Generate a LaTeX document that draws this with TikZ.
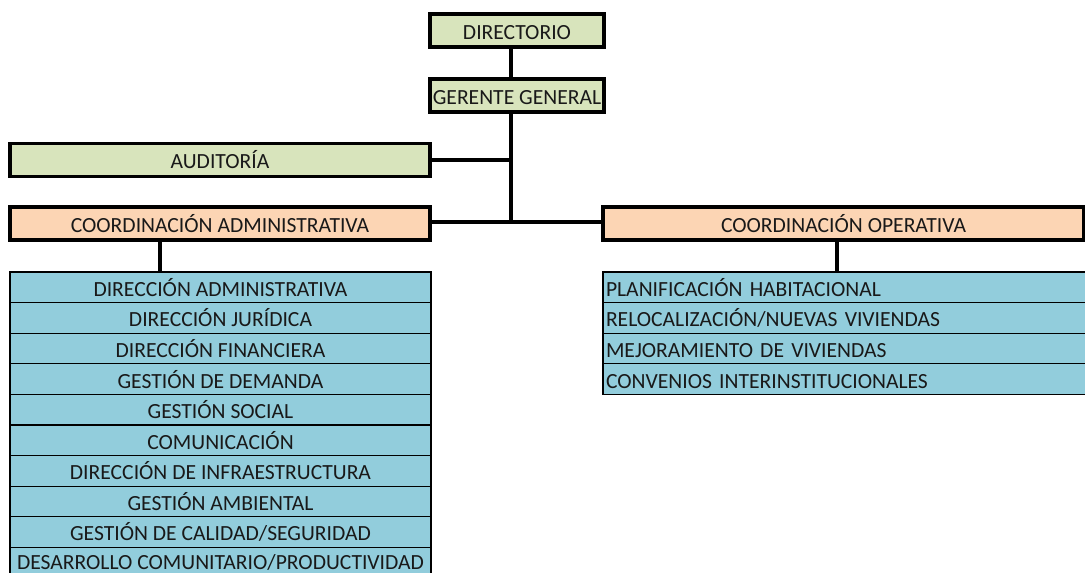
\documentclass[tikz,border=0pt]{standalone}
\usepackage{fontspec}
\setmainfont{Carlito}
\definecolor{gbox}{HTML}{D8E4BC}
\definecolor{obox}{HTML}{FCD5B4}
\definecolor{bbox}{HTML}{92CDDC}
\newcommand{\tstrut}{\vphantom{ÁÉ}}
\newcommand{\lowstrut}{\vphantom{ÁÉy}\rule[-2.5pt]{0pt}{1pt}}
\begin{document}
\begin{tikzpicture}[x=0.75pt,y=-0.75pt,
  every node/.style={inner sep=0pt,outer sep=0pt,font=\fontsize{16.2pt}{18pt}\selectfont,text=black!90},
  topbox/.style={draw=black,line width=2.4pt,fill=gbox,minimum width=174*0.75pt,minimum height=33*0.75pt},
  widebox/.style={draw=black,line width=2.4pt,minimum width=420*0.75pt,minimum height=33*0.75pt},
  lrow/.style={draw=black,line width=1pt,fill=bbox,minimum width=421*0.75pt,minimum height=30.6*0.75pt},
  rrow/.style={draw=black,line width=1pt,fill=bbox,minimum width=483*0.75pt,minimum height=30.6*0.75pt,text width=477*0.75pt,align=left},
  conn/.style={line width=2.4pt,black}]
\useasboundingbox (0,0) rectangle (1085,573);
\clip (0,0) rectangle (1085,573);
\coordinate (jA) at (511,160);
\coordinate (jB) at (511,222);
\node[topbox] (dir) at (517,30.5) {\tstrut DIRECTORIO};
\node[topbox] (ger) at (517,95.5) {\tstrut GERENTE GENERAL};
\node[widebox,fill=gbox] (aud) at (220,160) {\tstrut AUDITORÍA};
\node[widebox,fill=obox] (cad) at (220,223.5) {\tstrut COORDINACIÓN ADMINISTRATIVA};
\node[widebox,fill=obox,minimum width=481*0.75pt] (cop) at (843.5,223.5) {\tstrut COORDINACIÓN OPERATIVA};
\draw[conn] (dir.south -| jA) -- (ger.north -| jA);
\draw[conn] (ger.south -| jA) -- (jB);
\draw[conn] (jA) -- (aud.east |- jA);
\draw[conn] (cad.east |- jB) -- (cop.west |- jB);
% left list
\foreach \t [count=\i] in {DIRECCIÓN ADMINISTRATIVA,DIRECCIÓN JURÍDICA,DIRECCIÓN FINANCIERA,GESTIÓN DE DEMANDA,GESTIÓN SOCIAL,COMUNICACIÓN,DIRECCIÓN DE INFRAESTRUCTURA,GESTIÓN AMBIENTAL,GESTIÓN DE CALIDAD/SEGURIDAD,DESARROLLO COMUNITARIO/PRODUCTIVIDAD}
  \node[lrow] (l\i) at (220.5,{272+15.3+30.6*(\i-1)}) {\ifnum\i=10 \lowstrut\else\tstrut\fi\t};
% right list
\foreach \t [count=\i] in {PLANIFICACIÓN HABITACIONAL,RELOCALIZACIÓN/NUEVAS VIVIENDAS,MEJORAMIENTO DE VIVIENDAS,CONVENIOS INTERINSTITUCIONALES}
  \node[rrow] (r\i) at (844.5,{272+15.3+30.6*(\i-1)}) {\tstrut\t};
\coordinate (cL) at (160,240);
\coordinate (cR) at (837,240);
\draw[conn] (cad.south -| cL) -- (l1.north -| cL);
\draw[conn] (cop.south -| cR) -- (r1.north -| cR);
\end{tikzpicture}
\end{document}
